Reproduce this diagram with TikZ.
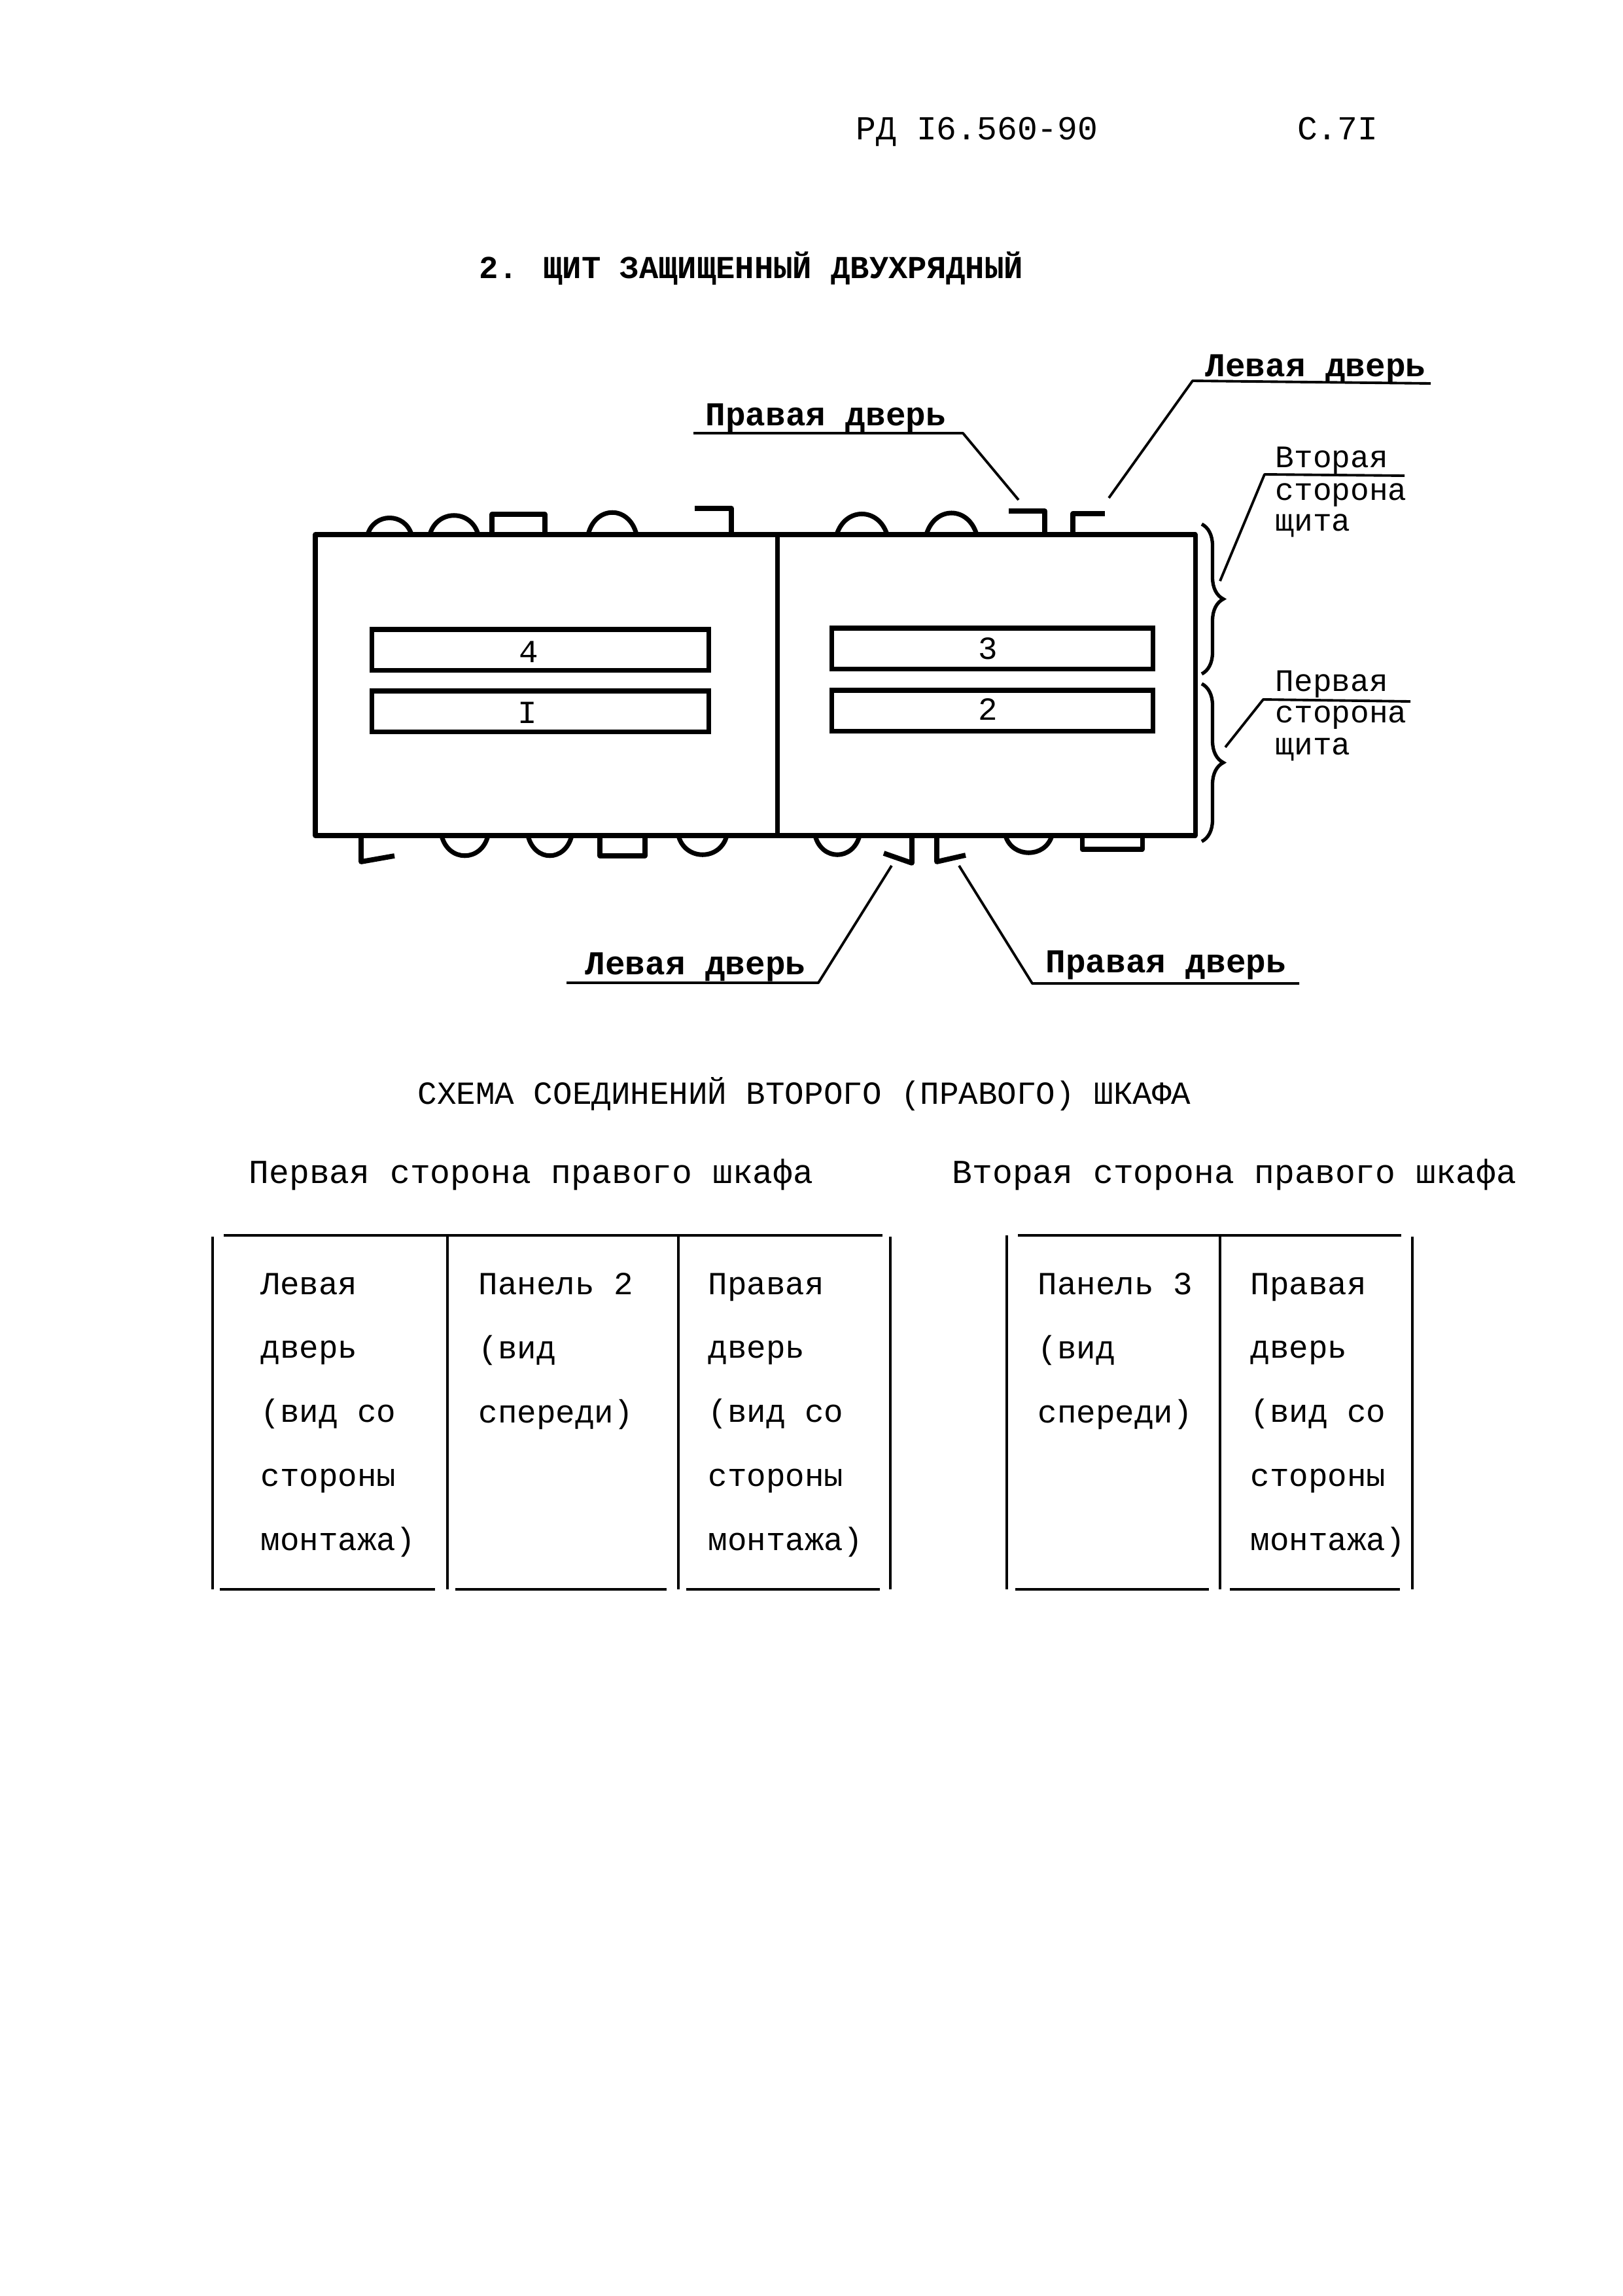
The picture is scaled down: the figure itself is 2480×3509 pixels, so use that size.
\documentclass[tikz,border=0pt]{standalone}
\usepackage{fontspec}
\usetikzlibrary{positioning, decorations.pathreplacing}
\newfontfamily\typed{Liberation Mono}

\begin{document}
\begin{tikzpicture}[
    x=0.01cm, y=-0.01cm,
    every node/.style={font=\typed\fontsize{14pt}{27.8pt}\selectfont, inner sep=0pt},
    typed/.style={anchor=base west},
    typedwide/.style={anchor=base west, font=\typed\fontsize{14.6pt}{27.8pt}\selectfont},
    typedside/.style={anchor=base west, font=\typed\fontsize{13.6pt}{27.8pt}\selectfont},
    boldtitle/.style={anchor=base west, font=\typed\bfseries\fontsize{13.9pt}{27.8pt}\selectfont},
    boldtyped/.style={anchor=base west, font=\typed\bfseries\fontsize{14.5pt}{27.8pt}\selectfont},
    frame/.style={line width=2pt, line cap=round, line join=round},
    bump/.style={line width=2pt, line join=round},
    hookbar/.style={line width=2.2pt, line join=round},
    panel/.style={
      rectangle, draw, line width=2pt, minimum width=5.15cm, minimum height=0.62cm,
      align=center
    },
    leader/.style={line width=1.1pt, line join=round},
    bracket/.style={line width=1.5pt, decorate, decoration={brace, amplitude=0.33cm}},
    grid/.style={line width=0.9pt},
    rule/.style={line width=1.4pt},
    cell/.style={anchor=north west, align=left},
  ]

  \useasboundingbox (0,0) rectangle (2480,3509);

  \node[typedwide] (docnum) at (1308,213) {РД I6.560-90};
  \node[typedwide, right=3.03cm of docnum.base east, anchor=base west] (pagenum) {С.7I};

  \node[boldtitle] (title) at (732,425) {2. ЩИТ ЗАЩИЩЕННЫЙ ДВУХРЯДНЫЙ};

  % cabinet
  \draw[frame] (482,817) rectangle (1827,1277);
  \draw[frame] (1188,817) -- (1188,1277);

  \node[panel] (p4) at (826,993) {};
  \node[panel] (p1) at (826,1087) {};
  \node[panel, minimum width=4.9cm] (p3) at (1517,991) {};
  \node[panel, minimum width=4.9cm] (p2) at (1517,1086) {};
  \node[typed, anchor=base] (n4) at (808,1012) {4};
  \node[typed, anchor=base] (n1) at (806,1105) {I};
  \node[typed, anchor=base] (n3) at (1510,1007) {3};
  \node[typed, anchor=base] (n2) at (1510,1100) {2};

  % top edge
  \draw[bump] (562,817) .. controls (572,783) and (619,783) .. (629,817);
  \draw[bump] (657,817) .. controls (668,778) and (720,778) .. (731,817);
  \draw[bump] (752,817) -- (752,786) -- (833,786) -- (833,817);
  \draw[bump] (899,817) .. controls (910,772) and (962,772) .. (973,817);
  \draw[hookbar] (1062,777) -- (1118,777) -- (1118,817);
  \draw[bump] (1279,817) .. controls (1292,775) and (1343,775) .. (1356,817);
  \draw[bump] (1416,817) .. controls (1429,773) and (1480,773) .. (1493,817);
  \draw[hookbar] (1542,781) -- (1597,781) -- (1597,817);
  \draw[hookbar] (1640,817) -- (1640,785) -- (1689,785);

  % bottom edge
  \draw[hookbar] (552,1277) -- (552,1317) -- (603,1308);
  \draw[bump] (675,1277) .. controls (685,1318) and (736,1318) .. (746,1277);
  \draw[bump] (807,1277) .. controls (817,1318) and (864,1318) .. (874,1277);
  \draw[bump] (917,1277) -- (917,1308) -- (986,1308) -- (986,1277);
  \draw[bump] (1037,1277) .. controls (1047,1316) and (1101,1316) .. (1111,1277);
  \draw[bump] (1246,1277) .. controls (1256,1316) and (1304,1316) .. (1314,1277);
  \draw[hookbar] (1351,1304) -- (1394,1319) -- (1394,1277);
  \draw[hookbar] (1432,1277) -- (1432,1317) -- (1476,1307);
  \draw[bump] (1537,1277) .. controls (1547,1312) and (1598,1312) .. (1608,1277);
  \draw[bump] (1654,1277) -- (1654,1298) -- (1746,1298) -- (1746,1277);

  % braces
  \draw[bracket] (1837,801) -- (1837,1030);
  \draw[bracket] (1837,1045) -- (1837,1286);

  % door labels
  \node[boldtyped] (dr1) at (1078,650) {Правая дверь};
  \node[boldtyped] (dl1) at (1842,575) {Левая дверь};
  \node[boldtyped] (dl2) at (894,1489) {Левая дверь};
  \node[boldtyped] (dr2) at (1598,1486) {Правая дверь};

  \coordinate (dr1a) at (1060,662);
  \coordinate (dr1b) at (1472,662);
  \coordinate (dr1c) at (1557,764);
  \coordinate (dl1a) at (2187,586);
  \coordinate (dl1b) at (1823,582);
  \coordinate (dl1c) at (1695,761);
  \coordinate (dl2a) at (866,1502);
  \coordinate (dl2b) at (1251,1502);
  \coordinate (dl2c) at (1363,1323);
  \coordinate (dr2a) at (1986,1503);
  \coordinate (dr2b) at (1578,1503);
  \coordinate (dr2c) at (1466,1323);

  \draw[leader] (dr1a) -- (dr1b) -- (dr1c);
  \draw[leader] (dl1a) -- (dl1b) -- (dl1c);
  \draw[leader] (dl2a) -- (dl2b) -- (dl2c);
  \draw[leader] (dr2a) -- (dr2b) -- (dr2c);

  % side labels
  \node[typedside] (sd2a) at (1949,714) {Вторая};
  \node[typedside] (sd2b) at (1949,764) {сторона};
  \node[typedside] (sd2c) at (1949,811) {щита};
  \node[typedside] (sd1a) at (1949,1056) {Первая};
  \node[typedside] (sd1b) at (1949,1104) {сторона};
  \node[typedside] (sd1c) at (1949,1153) {щита};

  \coordinate (sd2d) at (2147,727);
  \coordinate (sd2e) at (1933,725);
  \coordinate (sd2f) at (1865,888);
  \coordinate (sd1d) at (2156,1072);
  \coordinate (sd1e) at (1931,1069);
  \coordinate (sd1f) at (1873,1142);

  \draw[leader] (sd2d) -- (sd2e) -- (sd2f);
  \draw[leader] (sd1d) -- (sd1e) -- (sd1f);

  % tables
  \node[typed] (scheme) at (638,1687) {СХЕМА СОЕДИНЕНИЙ ВТОРОГО (ПРАВОГО) ШКАФА};
  \node[typedwide] (side1) at (380,1808) {Первая сторона правого шкафа};
  \node[typedwide] (side2) at (1455,1808) {Вторая сторона правого шкафа};

  \draw[rule] (342,1888) -- (1349,1888);
  \draw[rule] (336,2429) -- (665,2429);
  \draw[rule] (696,2429) -- (1019,2429);
  \draw[rule] (1049,2429) -- (1345,2429);
  \draw[grid] (325,1890) -- (325,2429);
  \draw[grid] (684,1888) -- (684,2429);
  \draw[grid] (1037,1888) -- (1037,2429);
  \draw[grid] (1361,1890) -- (1361,2429);

  \node[cell] (c1) at (398,1945) {Левая\\дверь\\(вид со\\стороны\\монтажа)};
  \node[cell] (c2) at (731,1945) {Панель 2\\(вид\\спереди)};
  \node[cell] (c3) at (1082,1945) {Правая\\дверь\\(вид со\\стороны\\монтажа)};

  \draw[rule] (1556,1888) -- (2142,1888);
  \draw[rule] (1552,2429) -- (1848,2429);
  \draw[rule] (1880,2429) -- (2140,2429);
  \draw[grid] (1539,1888) -- (1539,2429);
  \draw[grid] (1865,1888) -- (1865,2429);
  \draw[grid] (2159,1890) -- (2159,2429);

  \node[cell] (c4) at (1586,1945) {Панель 3\\(вид\\спереди)};
  \node[cell] (c5) at (1911,1945) {Правая\\дверь\\(вид со\\стороны\\монтажа)};

\end{tikzpicture}
\end{document}
